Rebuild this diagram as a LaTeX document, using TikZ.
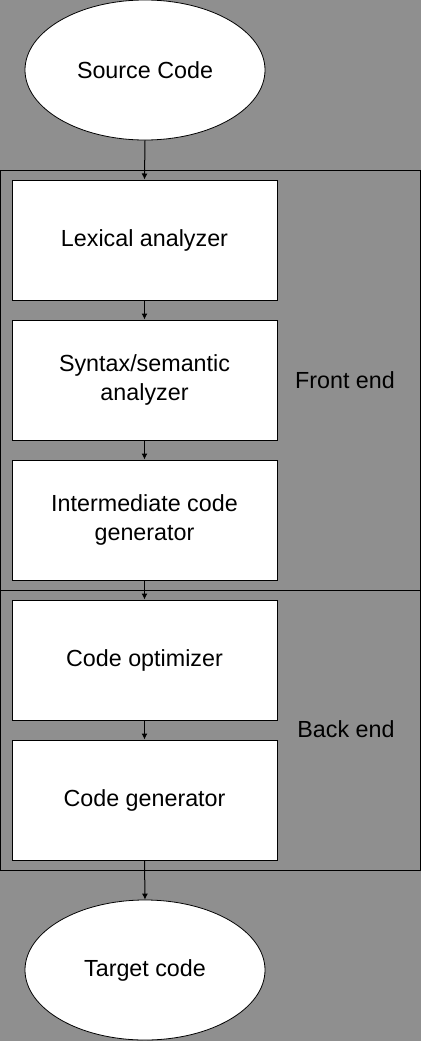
\documentclass[tikz,border=0pt]{standalone}
\usepackage{fontspec}
\setmainfont{Liberation Sans}
\usetikzlibrary{arrows.meta,shapes.geometric}
\definecolor{bg}{RGB}{143,143,143}
\begin{document}
\begin{tikzpicture}[x=1pt,y=-1pt,
  every node/.style={font=\fontsize{23.3}{29}\selectfont, inner sep=0pt, align=center},
  stagebox/.style={draw=black, line width=1pt, fill=white, minimum width=265pt, minimum height=120pt},
  endpoint/.style={ellipse, draw=black, line width=0.8pt, fill=white, minimum width=240pt, minimum height=140pt},
  frame/.style={draw=black, line width=1pt},
  flow/.style={draw=black, line width=1pt, -{Latex[length=6pt,width=6pt]}}]
\fill[bg] (0,0) rectangle (421,1041);
\useasboundingbox (0,0) rectangle (421,1041);
\node[frame, minimum width=420pt, minimum height=420pt] (front) at (210,380) {};
\node[frame, minimum width=420pt, minimum height=280pt] (back) at (210,730) {};
\node[endpoint] (src) at (145,70) {Source Code};
\node[stagebox] (lex) at (144.5,240) {Lexical analyzer};
\node[stagebox] (syn) at (144.5,380) {Syntax/semantic\\analyzer};
\node[stagebox] (icg) at (144.5,520) {Intermediate code\\generator};
\node[stagebox] (opt) at (144.5,660) {Code optimizer};
\node[stagebox] (gen) at (144.5,800) {Code generator};
\node[endpoint] (tgt) at (145,970) {Target code};
\node (felabel) at (345,380) {Front end};
\node (belabel) at (346,729) {Back end};
\draw[flow] (src.south) -- (lex.north);
\draw[flow] (lex.south) -- (syn.north);
\draw[flow] (syn.south) -- (icg.north);
\draw[flow] (icg.south) -- (opt.north);
\draw[flow] (opt.south) -- (gen.north);
\draw[flow] (gen.south) -- (tgt.north);
\end{tikzpicture}
\end{document}
